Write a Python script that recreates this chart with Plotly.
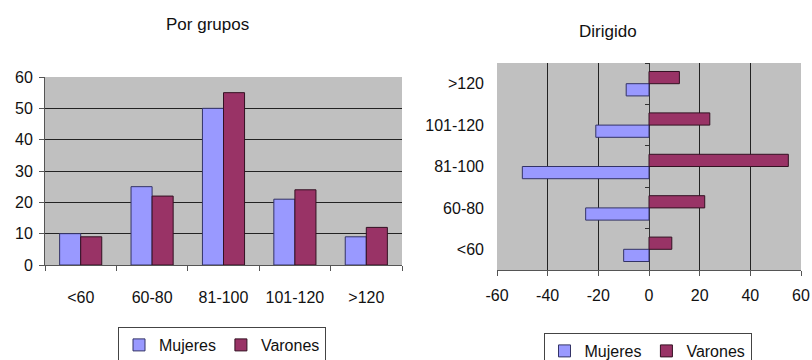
import plotly.graph_objects as go

categories = ["<60", "60-80", "81-100", "101-120", ">120"]
mujeres = [10, 25, 50, 21, 9]
varones = [9, 22, 55, 24, 12]
mujeres_dirigido = [-10, -25, -50, -21, -9]
varones_dirigido = [9, 22, 55, 24, 12]
y_ticks = [0, 10, 20, 30, 40, 50, 60]
x_ticks = [-60, -40, -20, 0, 20, 40, 60]
x_tick_labels = ["-60", "-40", "-20", "0", "20", "40", "60"]

C_MUJ = "#9999ff"
C_VAR = "#993366"
FONT = "Liberation Sans, Arial, sans-serif"
W, H = 812, 360

def px(x):
    return x / W

def py(y):
    return 1 - y / H

fig = go.Figure()

# Left chart: Por grupos
fig.add_trace(go.Bar(x=categories, y=mujeres, name="Mujeres", xaxis="x", yaxis="y",
                     marker=dict(color=C_MUJ, line=dict(color="#333366", width=1)),
                     legend="legend"))
fig.add_trace(go.Bar(x=categories, y=varones, name="Varones", xaxis="x", yaxis="y",
                     marker=dict(color=C_VAR, line=dict(color="#331122", width=1)),
                     legend="legend"))

# Right chart: Dirigido
fig.add_trace(go.Bar(y=categories, x=mujeres_dirigido, name="Mujeres", orientation="h",
                     xaxis="x2", yaxis="y2",
                     marker=dict(color=C_MUJ, line=dict(color="#333366", width=1)),
                     legend="legend2"))
fig.add_trace(go.Bar(y=categories, x=varones_dirigido, name="Varones", orientation="h",
                     xaxis="x2", yaxis="y2",
                     marker=dict(color=C_VAR, line=dict(color="#331122", width=1)),
                     legend="legend2"))

# invisible carrier so the overlay category axis (ticks at the zero line) has categories
fig.add_trace(go.Scatter(x=[0] * len(categories), y=categories, xaxis="x2", yaxis="y3",
                         mode="markers", marker=dict(opacity=0), showlegend=False,
                         hoverinfo="skip"))

tickfont = dict(family=FONT, size=16, color="#111111")

fig.update_layout(
    width=W, height=H,
    margin=dict(l=0, r=0, t=0, b=0, autoexpand=False),
    paper_bgcolor="white",
    plot_bgcolor="#c0c0c0",
    barmode="group",
    bargap=0.41,
    bargroupgap=0,
    font=dict(family=FONT, size=16, color="#111111"),
    xaxis=dict(domain=[px(45), px(402)], anchor="y", type="category",
               showgrid=False, showline=True, linecolor="#555555", linewidth=1,
               ticks="outside", tickson="boundaries", ticklen=5, tickcolor="#555555",
               ticklabelstandoff=18,
               tickfont=tickfont, mirror=False, fixedrange=True, automargin=False),
    yaxis=dict(domain=[py(265), py(77)], anchor="x", range=[0, 60],
               tickvals=y_ticks, showgrid=True, gridcolor="#222222", gridwidth=1,
               showline=True, linecolor="#555555", linewidth=1,
               ticks="outside", ticklen=5, tickcolor="#555555", ticklabelstandoff=3,
               tickfont=tickfont, zeroline=False, fixedrange=True, automargin=False),
    xaxis2=dict(domain=[px(497), px(801)], anchor="y2", range=[-60, 60],
                tickvals=x_ticks, ticktext=x_tick_labels,
                showgrid=True, gridcolor="#222222", gridwidth=1,
                showline=True, linecolor="#555555", linewidth=1,
                ticks="outside", ticklen=5, tickcolor="#555555", ticklabelstandoff=6,
                zeroline=True, zerolinecolor="#333333", zerolinewidth=1,
                tickfont=tickfont, fixedrange=True, automargin=False),
    yaxis2=dict(domain=[py(270), py(63)], anchor="x2", type="category",
                showgrid=False, showline=False, ticks="", tickfont=tickfont,
                ticklabelstandoff=12, fixedrange=True, automargin=False),
    yaxis3=dict(domain=[py(270), py(63)], anchor="free", overlaying="y2",
                position=px(649), matches="y2", type="category",
                showgrid=False, showline=False, ticks="outside", tickson="boundaries",
                ticklen=4, tickcolor="#333333", showticklabels=False,
                fixedrange=True, automargin=False),
    legend=dict(orientation="h", x=(133 + 311) / 2 / W, xanchor="center",
                y=py(327), yanchor="top",
                bgcolor="white", bordercolor="#444444", borderwidth=1,
                font=dict(family=FONT, size=16, color="#111111"),
                itemwidth=30, tracegroupgap=0, traceorder="normal"),
    legend2=dict(orientation="h", x=(557 + 738) / 2 / W, xanchor="center",
                 y=py(333), yanchor="top",
                 bgcolor="white", bordercolor="#444444", borderwidth=1,
                 font=dict(family=FONT, size=16, color="#111111"),
                 itemwidth=30, tracegroupgap=0, traceorder="normal"),
    annotations=[
        dict(text="Por grupos", x=px(207), y=py(25), xref="paper", yref="paper",
             xanchor="center", yanchor="middle",
             showarrow=False, font=dict(family=FONT, size=17, color="#111111")),
        dict(text="Dirigido", x=px(608), y=py(31), xref="paper", yref="paper",
             xanchor="center", yanchor="middle",
             showarrow=False, font=dict(family=FONT, size=17, color="#111111")),
    ],
)

fig.write_html("out.html", config={"displayModeBar": False},
               post_script="document.body.style.margin='0';document.body.style.overflow='hidden';")
